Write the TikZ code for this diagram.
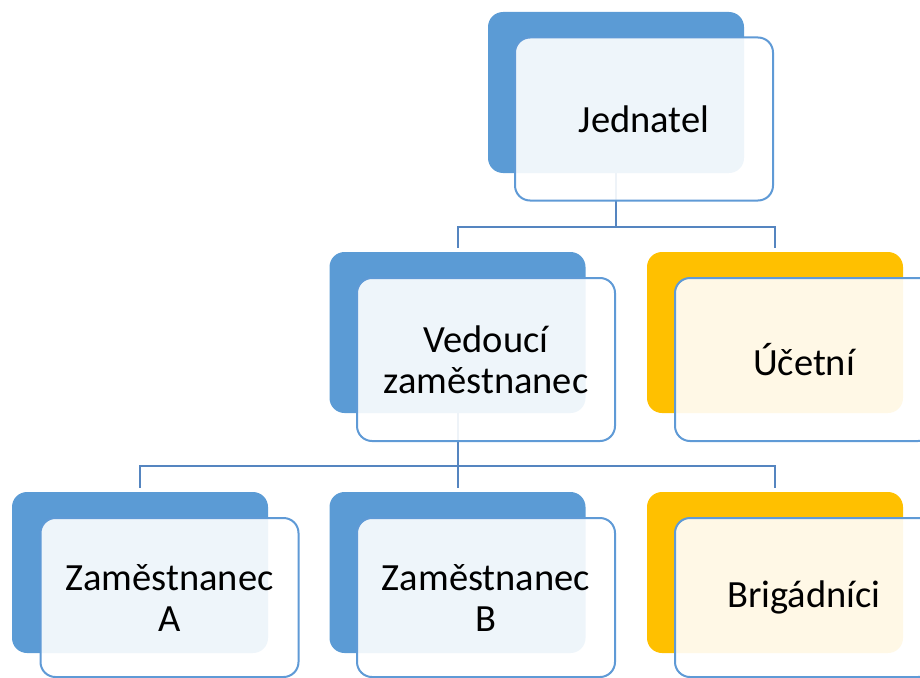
\documentclass[tikz,border=0pt]{standalone}
\usepackage{fontspec}
\setmainfont{Carlito}
\definecolor{bblue}{HTML}{5B9BD5}
\definecolor{byellow}{HTML}{FFC000}
\definecolor{fborder}{HTML}{5F9AD6}
\definecolor{conncol}{HTML}{5585C0}
\begin{document}
\begin{tikzpicture}[x=1pt,y=-1pt,
  backbox/.style={rectangle, rounded corners=15pt, minimum width=256pt, minimum height=161pt, inner sep=0pt},
  bluebox/.style={backbox, fill=bblue},
  yellowbox/.style={backbox, fill=byellow},
  frontbox/.style={rectangle, rounded corners=15pt, minimum width=258pt, minimum height=163pt, inner sep=0pt,
     draw=fborder, line width=2pt, fill=white, fill opacity=0.9, text opacity=1, draw opacity=1,
     align=center, font=\fontsize{38.5}{41}\selectfont, text=black},
  conn/.style={draw=conncol, line width=2pt}]
\useasboundingbox (0,0) rectangle (920,677);
\clip (0,0) rectangle (920,677);
% back boxes
\node[bluebox]   (jb) at (616,92.5) {};
\node[bluebox]   (vb) at (457.5,332.5) {};
\node[yellowbox] (ub) at (775,332.5) {};
\node[bluebox]   (ab) at (140,572.5) {};
\node[bluebox]   (bb) at (457.5,572.5) {};
\node[yellowbox] (gb) at (775,572.5) {};
% connectors
\coordinate (bus1) at (0,226.5);
\coordinate (bus2) at (0,465.5);
\draw[conn] (jb.south) -- (jb.south |- bus1);
\draw[conn] ([yshift=4pt]vb.north) |- (bus1 -| ub.north) -- ([yshift=4pt]ub.north);
\draw[conn] (vb.south) -- (vb.south |- bus2);
\draw[conn] ([yshift=4pt]ab.north) |- (bus2 -| gb.north) -- ([yshift=4pt]gb.north);
\draw[conn] (bus2 -| bb.north) -- ([yshift=4pt]bb.north);
% front boxes
\node[frontbox] (jf) at (644,119) {Jednatel};
\node[frontbox] (vf) at (486,359.5) {Vedoucí\\zaměstnanec};
\node[frontbox] (uf) at (804,359.5) {Účetní};
\node[frontbox, minimum height=159pt] (af) at (169.5,597.5) {Zaměstnanec\\A};
\node[frontbox, minimum height=159pt] (bf) at (486,597.5) {Zaměstnanec\\B};
\node[frontbox, minimum height=159pt] (gf) at (804,597.5) {Brigádníci};
\end{tikzpicture}
\end{document}
